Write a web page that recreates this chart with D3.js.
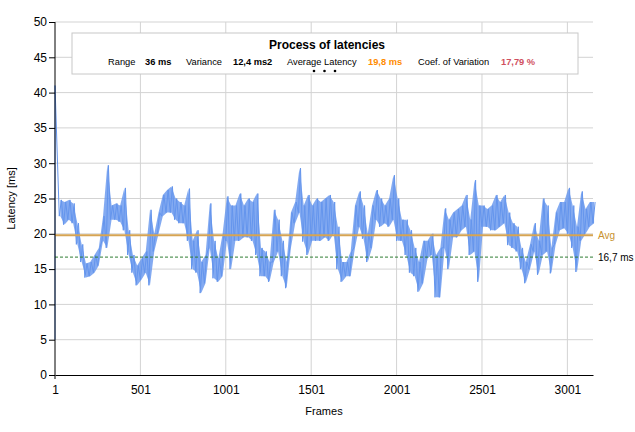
<!DOCTYPE html>
<html>
<head>
<meta charset="utf-8">
<script src="https://cdn.jsdelivr.net/npm/d3@7"></script>
<style>
  body { margin: 0; background: #fff; }
  svg { font-family: "Liberation Sans", Arial, sans-serif; }
</style>
</head>
<body>
<div id="chart"></div>
<script>
// Latency readings, in bins of 25 frames: lowest and highest value seen in each bin
const binSize = 25;
const latencyLo = [
  5, 22.5, 21.3, 22, 21.5, 18.5, 16, 13.8, 14, 14.5, 15.5, 19, 18, 22, 22, 21.7, 20.5, 17, 14.5, 12.7,
  13.5, 14.5, 12.7, 17.5, 20, 22.5, 23, 23, 22, 21.5, 21.5, 19, 15, 14.5, 11.6, 13, 18, 13.7, 13.2, 14,
  19, 15, 19, 19, 19.5, 19.5, 19, 17, 14, 14, 13.2, 16, 17.5, 14, 12.3, 18, 21.5, 23, 18.9, 17,
  19, 19, 19, 19.5, 19, 20, 15, 13.2, 14, 14, 18, 21, 19.3, 16, 18, 22, 21, 21.5, 21, 22,
  19, 19, 17, 14.5, 14, 11.8, 13, 16.5, 17, 11, 11, 18, 15, 19.5, 19.5, 20.5, 21, 17, 17.5, 13.2,
  21, 21, 20.5, 20.5, 21, 21.5, 18.4, 18, 17.5, 15, 13, 15, 17.5, 14.2, 17, 17.5, 14.4, 18.5, 20.5, 20.8,
  20, 18, 14.6, 19, 20, 21, 21.5
];
const latencyHi = [
  41, 24.8, 24.5, 24.8, 24.3, 21.5, 18.5, 15.8, 16, 17, 18, 22.5, 29.7, 24, 24.3, 24, 26.5, 20.5, 17, 15.5,
  16.5, 17.5, 23.4, 20, 23, 25.5, 26.2, 26.7, 25, 24.5, 24, 26.4, 19, 20.5, 16, 17, 24.3, 19, 16.5, 20,
  25.3, 24, 24, 25.7, 24, 25, 24.5, 25.7, 18, 17.5, 16, 23.4, 22, 19, 16, 23, 24.5, 29.3, 24, 25.5,
  24, 25, 24.5, 25, 25.5, 24.5, 21, 16, 16, 17.5, 24, 26, 24, 20, 24, 26.2, 25, 24, 25, 28.3,
  25, 22, 22, 20.5, 18, 16, 19, 19, 20, 17, 18, 23.6, 22, 23, 23.5, 24, 25.5, 22, 27.6, 24,
  24, 23.5, 24, 25.5, 24.5, 25.5, 23, 21.5, 21, 18, 16, 18.5, 21.5, 19, 25, 24, 18, 23, 24.5, 24.5,
  26.5, 24, 21, 26, 23.5, 24.5, 24.5
];
const xTicks = [1, 501, 1001, 1501, 2001, 2501, 3001];
const yTicks = [0, 5, 10, 15, 20, 25, 30, 35, 40, 45, 50];
const avgLatency = 19.8;
const refLatency = 16.7;
const stats = [
  { label: "Range", value: "36 ms", color: "#000" },
  { label: "Variance", value: "12,4 ms2", color: "#000" },
  { label: "Average Latency", value: "19,8 ms", color: "#ff8c00" },
  { label: "Coef. of Variation", value: "17,79 %", color: "#d0505e" }
];
const statPos = [[108, 145], [186, 233], [287, 368], [418, 501]];

const margin = { top: 22, right: 42, bottom: 57, left: 55 };
const width = 635 - margin.left - margin.right;
const height = 432 - margin.top - margin.bottom;

const svg = d3
  .select("#chart")
  .append("svg")
  .attr("width", 635)
  .attr("height", 432);

const g = svg.append("g").attr("transform", `translate(${margin.left},${margin.top})`);

const x = d3.scaleLinear().domain([1, 3151]).range([0, width]);
const y = d3.scaleLinear().domain([0, 50]).range([height, 0]);

// Grid
g.append("g")
  .selectAll("line")
  .data(yTicks.filter((d) => d > 0))
  .join("line")
  .attr("x1", 0)
  .attr("x2", width)
  .attr("y1", (d) => y(d))
  .attr("y2", (d) => y(d))
  .attr("stroke", "#d3d3d3");

g.append("g")
  .selectAll("line")
  .data(xTicks.filter((d) => d > 1))
  .join("line")
  .attr("x1", (d) => x(d))
  .attr("x2", (d) => x(d))
  .attr("y1", 0)
  .attr("y2", height)
  .attr("stroke", "#d3d3d3");

// Latency band (spread of each bin), skipping the start-up spike
const bins = latencyLo.map((lo, i) => ({ f: 1 + i * binSize + binSize / 4, lo, hi: latencyHi[i] }));

g.append("path")
  .datum(bins.slice(1))
  .attr("fill", "#6495ed")
  .attr("fill-opacity", 0.8)
  .attr("d", d3.area().x((d) => x(d.f)).y0((d) => y(d.lo)).y1((d) => y(d.hi)));

// Latency trace: zig-zag through each bin's low and high
const points = [];
latencyLo.forEach((lo, i) => {
  const f = 1 + i * binSize;
  points.push([i === 0 ? 1 : f, lo]);
  points.push([i === 0 ? 1 : f + binSize / 2, latencyHi[i]]);
});

g.append("path")
  .datum(points)
  .attr("fill", "none")
  .attr("stroke", "#6495ed")
  .attr("stroke-width", 1)
  .attr("stroke-linejoin", "round")
  .attr("d", d3.line().x((d) => x(d[0])).y((d) => y(d[1])));

// Average and reference lines
g.append("line")
  .attr("x1", 0)
  .attr("x2", width)
  .attr("y1", y(avgLatency))
  .attr("y2", y(avgLatency))
  .attr("stroke", "#d6a453")
  .attr("stroke-width", 2);

g.append("line")
  .attr("x1", 0)
  .attr("x2", width)
  .attr("y1", y(refLatency))
  .attr("y2", y(refLatency))
  .attr("stroke", "#2e7d32")
  .attr("stroke-dasharray", "3,2");

g.append("text")
  .attr("x", width + 5)
  .attr("y", y(avgLatency) + 4)
  .style("font-size", "10px")
  .attr("fill", "#c8922e")
  .text("Avg");

g.append("text")
  .attr("x", width + 5)
  .attr("y", y(refLatency) + 4)
  .style("font-size", "10px")
  .attr("fill", "#000")
  .text("16,7 ms");

// Axes
const yAxis = g.append("g").call(d3.axisLeft(y).tickValues(yTicks).tickSize(6).tickPadding(2).tickSizeOuter(0));
yAxis.select(".domain").attr("d", `M0,0V${height + 4}`);
yAxis.selectAll("text").style("font-size", "12px").attr("fill", "#000");

const xAxis = g
  .append("g")
  .attr("transform", `translate(0,${height})`)
  .call(d3.axisBottom(x).tickValues(xTicks).tickFormat(d3.format("d")).tickSize(0).tickPadding(10).tickSizeOuter(0));
xAxis.selectAll("text").style("font-size", "12px").attr("fill", "#000");

g.append("text")
  .attr("x", width / 2)
  .attr("y", height + 40)
  .style("text-anchor", "middle")
  .style("font-size", "11px")
  .text("Frames");

svg
  .append("text")
  .attr("transform", `translate(15,${margin.top + height / 2}) rotate(-90)`)
  .style("text-anchor", "middle")
  .style("font-size", "11px")
  .text("Latency [ms]");

// Title box
svg
  .append("rect")
  .attr("x", 72)
  .attr("y", 33)
  .attr("width", 506)
  .attr("height", 41)
  .attr("fill", "#fff")
  .attr("stroke", "#c8c8c8");

svg
  .append("text")
  .attr("x", 327)
  .attr("y", 49)
  .style("text-anchor", "middle")
  .style("font-size", "12px")
  .style("font-weight", "bold")
  .text("Process of latencies");

stats.forEach((s, i) => {
  svg
    .append("text")
    .attr("x", statPos[i][0])
    .attr("y", 65)
    .style("font-size", "9.3px")
    .text(s.label);
  svg
    .append("text")
    .attr("x", statPos[i][1])
    .attr("y", 65)
    .style("font-size", "9.3px")
    .style("font-weight", "bold")
    .attr("fill", s.color)
    .text(s.value);
});

svg
  .append("g")
  .selectAll("circle")
  .data([314, 324.5, 335])
  .join("circle")
  .attr("cx", (d) => d)
  .attr("cy", 71)
  .attr("r", 1.3)
  .attr("fill", "#000");
</script>
</body>
</html>
